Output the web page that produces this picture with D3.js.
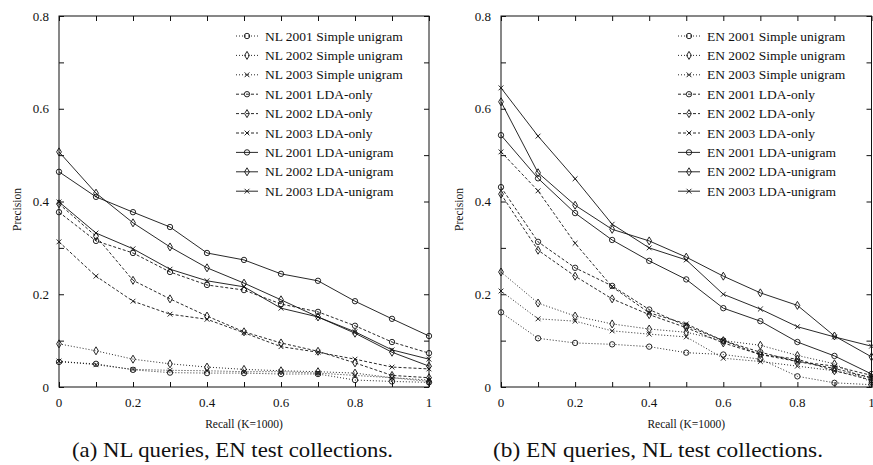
<!DOCTYPE html>
<html>
<head>
<meta charset="utf-8">
<script src="https://cdn.jsdelivr.net/npm/d3@7"></script>
<style>
  body { margin: 0; background: #fff; }
  text { font-family: "Liberation Serif", "DejaVu Serif", serif; fill: #111; }
</style>
</head>
<body>
<svg id="chart" width="873" height="465"></svg>
<script>
// recall levels (x) and tick labels
var recall = [0, 0.1, 0.2, 0.3, 0.4, 0.5, 0.6, 0.7, 0.8, 0.9, 1];
var xTicks = [0, 0.2, 0.4, 0.6, 0.8, 1];
var yTicks = [0, 0.2, 0.4, 0.6, 0.8];
var minorTicks = [0, 0.1, 0.2, 0.3, 0.4, 0.5, 0.6, 0.7, 0.8, 0.9, 1];

// (a) NL queries, EN test collections
var nl2001Simple = [0.054, 0.050, 0.037, 0.031, 0.030, 0.030, 0.028, 0.028, 0.015, 0.012, 0.010];
var nl2002Simple = [0.093, 0.078, 0.060, 0.050, 0.043, 0.038, 0.035, 0.033, 0.030, 0.020, 0.012];
var nl2003Simple = [0.056, 0.048, 0.038, 0.036, 0.035, 0.033, 0.033, 0.030, 0.025, 0.020, 0.015];
var nl2001Lda = [0.377, 0.315, 0.289, 0.248, 0.220, 0.209, 0.179, 0.162, 0.132, 0.097, 0.073];
var nl2002Lda = [0.395, 0.325, 0.230, 0.190, 0.153, 0.119, 0.095, 0.077, 0.052, 0.025, 0.020];
var nl2003Lda = [0.313, 0.239, 0.185, 0.157, 0.146, 0.117, 0.087, 0.075, 0.060, 0.043, 0.039];
var nl2001Mix = [0.464, 0.410, 0.377, 0.345, 0.289, 0.274, 0.244, 0.229, 0.185, 0.147, 0.110];
var nl2002Mix = [0.507, 0.418, 0.354, 0.302, 0.257, 0.224, 0.188, 0.151, 0.116, 0.075, 0.045];
var nl2003Mix = [0.399, 0.332, 0.298, 0.254, 0.229, 0.216, 0.170, 0.151, 0.119, 0.080, 0.060];

// (b) EN queries, NL test collections
var en2001Simple = [0.161, 0.105, 0.095, 0.092, 0.087, 0.074, 0.070, 0.060, 0.023, 0.009, 0.005];
var en2002Simple = [0.248, 0.181, 0.153, 0.136, 0.125, 0.118, 0.100, 0.090, 0.068, 0.050, 0.010];
var en2003Simple = [0.207, 0.147, 0.142, 0.121, 0.114, 0.108, 0.062, 0.055, 0.045, 0.035, 0.020];
var en2001Lda = [0.431, 0.313, 0.257, 0.218, 0.167, 0.132, 0.100, 0.075, 0.055, 0.040, 0.020];
var en2002Lda = [0.416, 0.295, 0.239, 0.190, 0.156, 0.128, 0.095, 0.070, 0.060, 0.035, 0.015];
var en2003Lda = [0.507, 0.423, 0.310, 0.216, 0.160, 0.136, 0.100, 0.070, 0.055, 0.045, 0.025];
var en2001Mix = [0.543, 0.450, 0.375, 0.317, 0.272, 0.232, 0.170, 0.142, 0.097, 0.067, 0.028];
var en2002Mix = [0.615, 0.462, 0.392, 0.340, 0.315, 0.280, 0.239, 0.203, 0.176, 0.110, 0.065];
var en2003Mix = [0.645, 0.541, 0.449, 0.351, 0.300, 0.274, 0.200, 0.168, 0.130, 0.108, 0.088];

var svg = d3.select('#chart');

var panels = [
  {
    x0: 59, x1: 429, lang: 'NL',
    caption: '(a) NL queries, EN test collections.', capX: 72, capW: 321,
    series: [nl2001Simple, nl2002Simple, nl2003Simple, nl2001Lda, nl2002Lda, nl2003Lda, nl2001Mix, nl2002Mix, nl2003Mix]
  },
  {
    x0: 501, x1: 871.5, lang: 'EN',
    caption: '(b) EN queries, NL test collections.', capX: 493, capW: 330,
    series: [en2001Simple, en2002Simple, en2003Simple, en2001Lda, en2002Lda, en2003Lda, en2001Mix, en2002Mix, en2003Mix]
  }
];

var years = ['2001', '2002', '2003'];
var methods = ['Simple unigram', 'LDA-only', 'LDA-unigram'];
var dashes = ['1,2', '3,2', null];
var markers = ['circle', 'diamond', 'cross'];

function drawMarker(g, type, cx, cy) {
  if (type == 'circle') {
    g.append('circle').attr('cx', cx).attr('cy', cy).attr('r', 2.7)
      .attr('fill', 'none').attr('stroke', '#111').attr('stroke-width', 0.9);
  } else if (type == 'diamond') {
    g.append('path')
      .attr('d', 'M' + cx + ',' + (cy - 4) + 'L' + (cx + 2.4) + ',' + cy + 'L' + cx + ',' + (cy + 4) + 'L' + (cx - 2.4) + ',' + cy + 'Z')
      .attr('fill', 'none').attr('stroke', '#111').attr('stroke-width', 0.9);
  } else {
    var s = 2.4;
    g.append('path')
      .attr('d', 'M' + (cx - s) + ',' + (cy - s) + 'L' + (cx + s) + ',' + (cy + s) + 'M' + (cx - s) + ',' + (cy + s) + 'L' + (cx + s) + ',' + (cy - s))
      .attr('fill', 'none').attr('stroke', '#111').attr('stroke-width', 0.9);
  }
}

panels.forEach(function(p) {
  var top = 16, bottom = 387;

  var xScale = d3.scaleLinear().domain([0, 1]).range([p.x0, p.x1]);
  var yScale = d3.scaleLinear().domain([0, 0.8]).range([bottom, top]);

  var g = svg.append('g');

  /* frame */
  g.append('rect')
    .attr('x', p.x0).attr('y', top)
    .attr('width', p.x1 - p.x0).attr('height', bottom - top)
    .attr('fill', 'none').attr('stroke', '#111').attr('stroke-width', 1);

  /* inward ticks on all four sides */
  var xAxisB = d3.axisBottom(xScale).tickValues(minorTicks).tickSize(-5).tickFormat('');
  var xAxisT = d3.axisTop(xScale).tickValues(minorTicks).tickSize(-5).tickFormat('');
  var yAxisL = d3.axisLeft(yScale).tickValues(d3.range(0, 0.81, 0.1)).tickSize(-5).tickFormat('');
  var yAxisR = d3.axisRight(yScale).tickValues(d3.range(0, 0.81, 0.1)).tickSize(-5).tickFormat('');

  [
    [xAxisB, 'translate(0,' + bottom + ')'],
    [xAxisT, 'translate(0,' + top + ')'],
    [yAxisL, 'translate(' + p.x0 + ',0)'],
    [yAxisR, 'translate(' + p.x1 + ',0)']
  ].forEach(function(a) {
    var ax = g.append('g').attr('transform', a[1]).call(a[0]);
    ax.select('.domain').remove();
    ax.selectAll('line').attr('stroke', '#111');
  });

  /* tick labels */
  g.selectAll('.xl').data(xTicks).enter().append('text')
    .attr('x', function(d) { return xScale(d); })
    .attr('y', 407)
    .attr('text-anchor', 'middle')
    .style('font-size', '13px')
    .text(function(d) { return d3.format('~g')(d); });

  g.selectAll('.yl').data(yTicks).enter().append('text')
    .attr('x', p.x0 - 10)
    .attr('y', function(d) { return yScale(d) + 4.5; })
    .attr('text-anchor', 'end')
    .style('font-size', '13px')
    .text(function(d) { return d3.format('~g')(d); });

  /* axis titles */
  g.append('text')
    .attr('transform', 'translate(' + (p.x0 - 38) + ',' + ((top + bottom) / 2 + 8) + ') rotate(-90)')
    .attr('text-anchor', 'middle')
    .style('font-size', '11.5px')
    .text('Precision');

  g.append('text')
    .attr('x', (p.x0 + p.x1) / 2)
    .attr('y', 428)
    .attr('text-anchor', 'middle')
    .style('font-size', '11.5px')
    .text('Recall (K=1000)');

  /* caption */
  g.append('text')
    .attr('x', p.capX)
    .attr('y', 457)
    .attr('textLength', p.capW)
    .attr('lengthAdjust', 'spacingAndGlyphs')
    .style('font-size', '22px')
    .text(p.caption);

  /* series */
  var line = d3.line()
    .x(function(d, i) { return xScale(recall[i]); })
    .y(function(d) { return yScale(d); });

  p.series.forEach(function(vals, k) {
    var m = Math.floor(k / 3), yr = k % 3;
    var sg = g.append('g');
    sg.append('path')
      .attr('d', line(vals))
      .attr('fill', 'none')
      .attr('stroke', '#111')
      .attr('stroke-width', 0.9)
      .attr('stroke-dasharray', dashes[m]);
    vals.forEach(function(v, i) {
      drawMarker(sg, markers[yr], xScale(recall[i]), yScale(v));
    });

    /* legend row */
    var ly = 36 + k * 19.4;
    var lg = g.append('g');
    lg.append('line')
      .attr('x1', p.x0 + 177).attr('x2', p.x0 + 199)
      .attr('y1', ly).attr('y2', ly)
      .attr('stroke', '#111').attr('stroke-width', 0.9)
      .attr('stroke-dasharray', dashes[m]);
    drawMarker(lg, markers[yr], p.x0 + 188, ly);
    lg.append('text')
      .attr('x', p.x0 + 206)
      .attr('y', ly + 4.5)
      .style('font-size', '13.5px')
      .text(p.lang + ' ' + years[yr] + ' ' + methods[m]);
  });
});
</script>
</body>
</html>
